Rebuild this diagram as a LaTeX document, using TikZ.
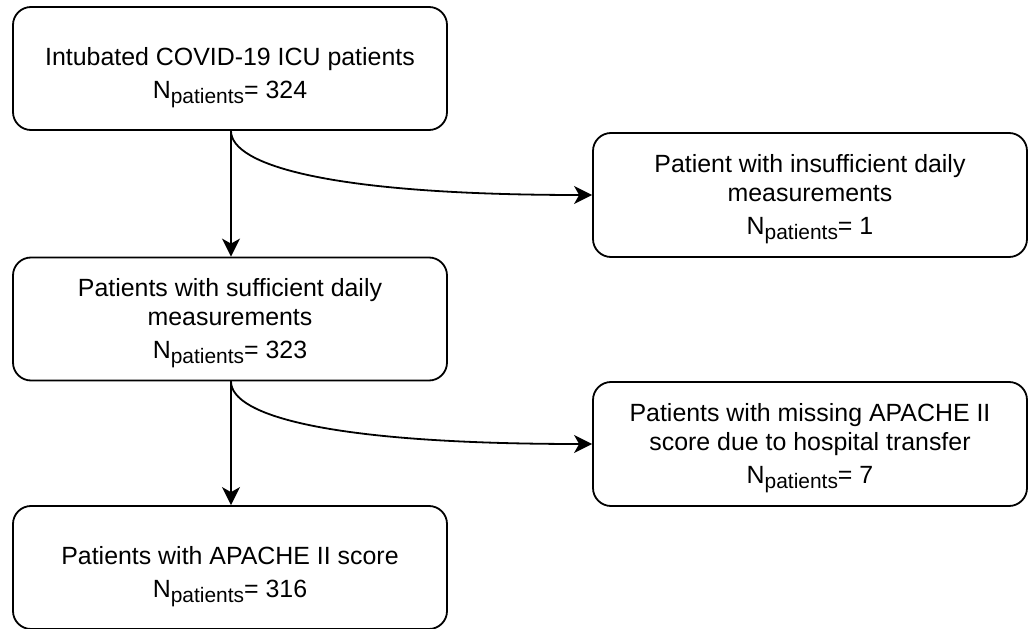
\documentclass[tikz,border=0pt]{standalone}
\usepackage{fontspec}
\setmainfont{Liberation Sans}
\usetikzlibrary{arrows.meta}
\newcommand\Npat{N\raisebox{-5bp}{\fontsize{21}{21}\selectfont patients}}
\tikzset{
  box/.style={draw, line width=1.8bp, rounded corners=18bp, inner sep=0pt},
  leftbox/.style={box, minimum width=434bp, minimum height=123bp},
  rightbox/.style={box, minimum width=434bp, minimum height=124bp},
  txt/.style={align=center, inner sep=0pt, font=\fontsize{25}{29}\selectfont},
  conn/.style={line width=1.8bp, -{Stealth[length=18bp,width=18bp,inset=5bp]}}
}
\begin{document}
\begin{tikzpicture}[x=1bp,y=-1bp]
\useasboundingbox (0,0) rectangle (1030,629);
\node[leftbox] (b1) at (230,68.5) {};
\node[rightbox] (b2) at (810,195) {};
\node[leftbox] (b3) at (230,319) {};
\node[rightbox] (b4) at (810,444) {};
\node[leftbox] (b5) at (230,567.5) {};
\node[txt] (t1) at ([yshift=-9bp]b1.center) {Intubated COVID-19 ICU patients\\[4bp]\Npat= 324};
\node[txt] (t2) at ([yshift=-4.5bp]b2.center) {Patient with insufficient daily\\measurements\\[4bp]\Npat= 1};
\node[txt] (t3) at ([yshift=-4.5bp]b3.center) {Patients with sufficient daily\\measurements\\[4bp]\Npat= 323};
\node[txt] (t4) at ([yshift=-4.5bp]b4.center) {Patients with missing APACHE II\\score due to hospital transfer\\[4bp]\Npat= 7};
\node[txt] (t5) at ([yshift=-9bp]b5.center) {Patients with APACHE II score\\[4bp]\Npat= 316};
\coordinate (s1) at ([xshift=1bp]b1.south);
\coordinate (s3) at ([xshift=1bp]b3.south);
\draw[conn] (s1) -- (s1 |- b3.north);
\draw[conn] (s3) -- (s3 |- b5.north);
\draw[conn] (s1) .. controls ([yshift=-34bp]s1) and ([xshift=-264bp]b2.west) .. (b2.west);
\draw[conn] (s3) .. controls ([yshift=-34bp]s3) and ([xshift=-264bp]b4.west) .. (b4.west);
\end{tikzpicture}
\end{document}
